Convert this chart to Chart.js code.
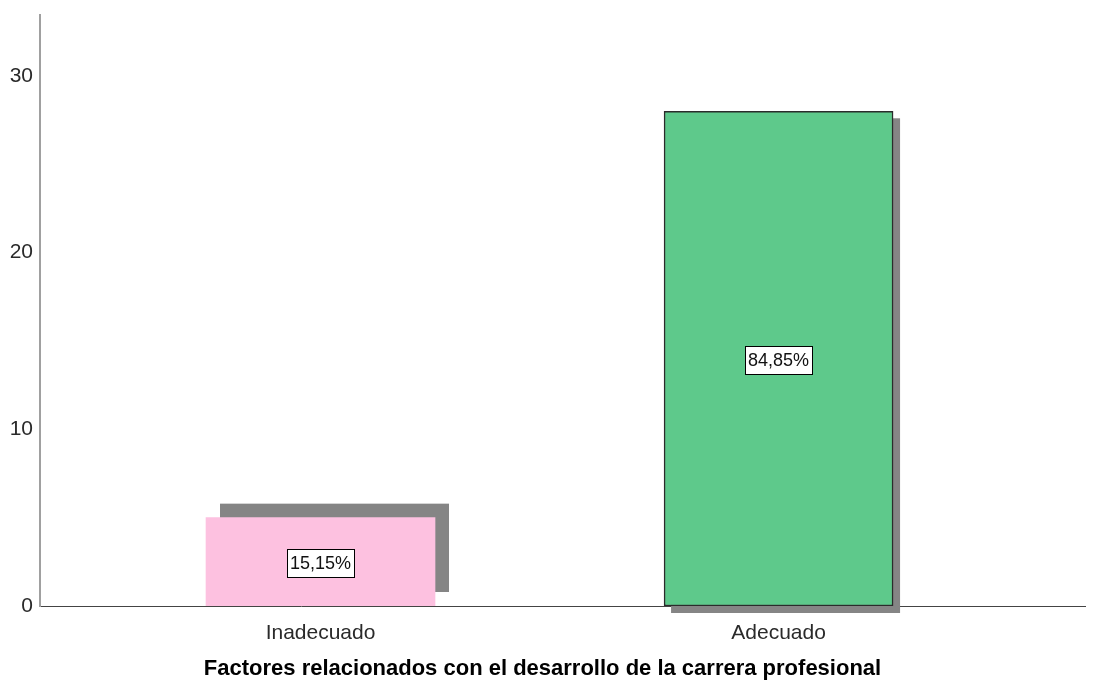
<!DOCTYPE html>
<html>
<head>
<meta charset="utf-8">
<script src="https://cdn.jsdelivr.net/npm/chart.js@4"></script>
<style>
  html, body { margin: 0; padding: 0; background: #fff; }
  #wrap { width: 1100px; height: 683px; }
</style>
</head>
<body>
<div id="wrap"><canvas id="chart" width="1100" height="683"></canvas></div>
<script>
const categories = ['Inadecuado', 'Adecuado'];
const counts = [5, 28];
const positions = [1, 2];
const yTicks = [0, 10, 20, 30];
const axisTitle = 'Factores relacionados con el desarrollo de la carrera profesional';

const total = counts.reduce((a, b) => a + b, 0);
const percentLabels = counts.map((c) => (c / total * 100).toFixed(2).replace('.', ',') + '%');

// SPSS-like drop shadows, one offset per bar
const shadowOffsets = [[14, -14], [7, 7]];

const shadowPlugin = {
  id: 'barShadows',
  beforeDatasetsDraw(chart) {
    const ctx = chart.ctx;
    const meta = chart.getDatasetMeta(0);
    ctx.save();
    ctx.fillStyle = '#858585';
    meta.data.forEach((bar, i) => {
      const [dx, dy] = shadowOffsets[i];
      const left = bar.x - bar.width / 2 + dx;
      const top = bar.y + dy;
      const h = bar.base - bar.y;
      ctx.fillRect(left, top, bar.width, h);
    });
    ctx.restore();
  }
};

const boxLabelPlugin = {
  id: 'boxLabels',
  afterDatasetsDraw(chart) {
    const ctx = chart.ctx;
    const meta = chart.getDatasetMeta(0);
    ctx.save();
    ctx.font = '18px "Liberation Sans", Arial, sans-serif';
    ctx.textAlign = 'center';
    ctx.textBaseline = 'middle';
    meta.data.forEach((bar, i) => {
      const text = percentLabels[i];
      const cx = bar.x;
      const cy = (bar.y + bar.base) / 2 + 1;
      const w = Math.round(ctx.measureText(text).width + 6);
      const h = 28;
      const x0 = Math.round(cx - w / 2) + 0.5;
      const y0 = Math.round(cy - h / 2) + 0.5;
      ctx.fillStyle = '#ffffff';
      ctx.fillRect(x0, y0, w, h);
      ctx.strokeStyle = '#000000';
      ctx.lineWidth = 1;
      ctx.strokeRect(x0, y0, w, h);
      ctx.fillStyle = '#111111';
      ctx.fillText(text, cx, cy + 1);
    });
    ctx.restore();
  }
};

new Chart(document.getElementById('chart'), {
  type: 'bar',
  data: {
    datasets: [{
      data: positions.map((p, i) => ({ x: p, y: counts[i] })),
      backgroundColor: ['#fdc1e0', '#5ec98b'],
      borderColor: ['rgba(0,0,0,0)', '#2b2b2b'],
      borderWidth: [0, 1.5],
      borderSkipped: false,
      barThickness: 229
    }]
  },
  options: {
    responsive: false,
    animation: false,
    layout: { padding: { top: 15, right: 15, left: 0, bottom: 0 } },
    plugins: {
      legend: { display: false },
      tooltip: { enabled: false },
      title: {
        display: true,
        position: 'bottom',
        text: axisTitle,
        color: '#000000',
        font: { family: '"Liberation Sans", Arial, sans-serif', size: 22, weight: 'bold' },
        padding: { top: 4, bottom: 1 }
      }
    },
    scales: {
      x: {
        type: 'linear',
        offset: false,
        min: 0.3876,
        max: 2.669,
        grid: { display: false, drawTicks: false, offset: false },
        border: { display: true, color: '#444444', width: 1 },
        afterBuildTicks(scale) {
          scale.ticks = positions.map((v) => ({ value: v }));
        },
        afterFit(scale) { scale.height = 45.6; },
        ticks: {
          padding: 15,
          color: '#2a2a2a',
          font: { family: '"Liberation Sans", Arial, sans-serif', size: 21 },
          callback(value) {
            const idx = positions.indexOf(value);
            return idx >= 0 ? categories[idx] : '';
          }
        }
      },
      y: {
        min: 0,
        max: 33.45,
        grid: { display: false, drawTicks: false },
        border: { display: true, color: '#a0a0a0', width: 2 },
        afterBuildTicks(scale) {
          scale.ticks = yTicks.map((v) => ({ value: v }));
        },
        afterFit(scale) {
          scale.width = 40;
          scale.paddingTop = 0;
          scale.paddingBottom = 0;
        },
        ticks: {
          padding: 7,
          color: '#2a2a2a',
          font: { family: '"Liberation Sans", Arial, sans-serif', size: 21 }
        }
      }
    }
  },
  plugins: [shadowPlugin, boxLabelPlugin]
});
</script>
</body>
</html>
